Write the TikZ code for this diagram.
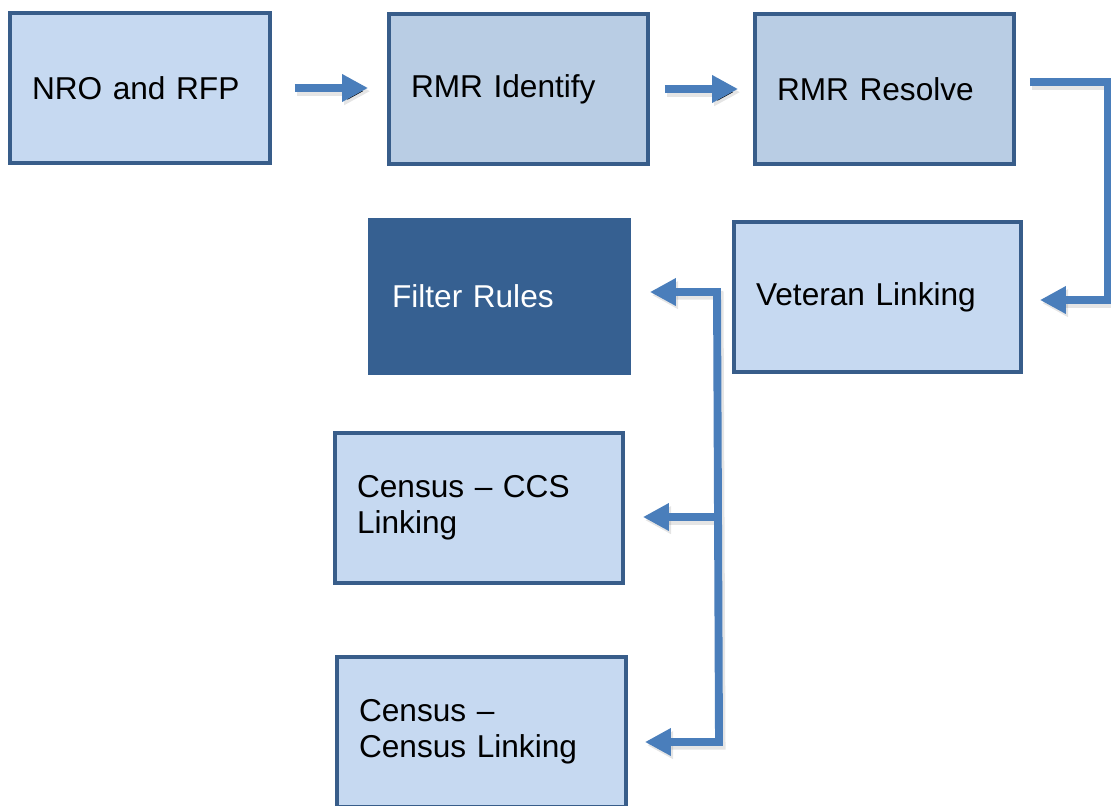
\documentclass[tikz,border=0pt]{standalone}
\usepackage{fontspec}
\setmainfont{Liberation Sans}
\usetikzlibrary{arrows.meta}
\definecolor{boxlight}{HTML}{C6D9F1}
\definecolor{boxmid}{HTML}{B9CDE4}
\definecolor{boxedge}{HTML}{385D8A}
\definecolor{boxdark}{HTML}{366091}
\definecolor{flow}{HTML}{4A7EBB}
\tikzset{
  fhead/.tip={Triangle[length=0.52cm,width=0.52cm]},
  stage/.style={draw=boxedge, line width=2.2pt, fill=boxlight, rectangle,
    minimum height=3cm, inner xsep=0.44cm, inner ysep=0pt, align=left,
    font=\fontsize{18}{20.4}\selectfont, anchor=center},
  stagemid/.style={stage, fill=boxmid},
  stagedark/.style={stage, draw=boxdark, fill=boxdark, text=white, minimum height=3.06cm},
  flowline/.style={draw=flow, line width=4.5pt},
  flowarrow/.style={flowline, -fhead},
  flowshadow/.style={draw=black, draw opacity=0.10, line width=5pt,
    transform canvas={xshift=1.2pt,yshift=-1.8pt}},
}
\begin{document}
\begin{tikzpicture}[x=0.02cm, y=-0.02cm]
\useasboundingbox (0,0) rectangle (1111,805);

% top row
\node[stage, text width=4.32cm]    (nro)     at (140,88)  {NRO and RFP};
\node[stagemid, text width=4.30cm] (ident)   at (518.5,89) {RMR Identify};
\node[stagemid, text width=4.30cm] (resolve) at (884.5,89) {RMR Resolve};

% second row
\node[stage, text width=4.86cm]    (veteran) at (877.5,297) {Veteran Linking};
\node[stagedark, text width=4.30cm] (filter) at (499.5,296.5) {Filter Rules};

% linking stages
\node[stage, text width=4.88cm] (ccs)    at (479,508)   {Census -- CCS\\Linking};
\node[stage, text width=4.90cm] (census) at (481.5,732) {Census --\\Census Linking};

% route points of the connectors
\coordinate (r1) at (1108,82);
\coordinate (r2) at (1108,300);
\coordinate (j1) at (717,292);
\coordinate (j2) at (717,517);
\coordinate (j3) at (719,742);

% soft shadows under the connectors
\draw[flowshadow, -fhead] ([xshift=0.46cm]nro.east) -- ([xshift=-0.38cm]ident.west |- nro.east);
\draw[flowshadow, -fhead] ([xshift=0.3cm]ident.east) -- ([xshift=-0.3cm]resolve.west);
\draw[flowshadow, -fhead, line join=miter] ([xshift=0.28cm]resolve.east |- r1) -- (r1) -- (r2) -- ([xshift=0.34cm]veteran.east |- r2);
\draw[flowshadow, fhead-fhead, line join=miter] ([xshift=0.38cm]filter.east |- j1) -- (j1) -- (j3) -- ([xshift=0.34cm]census.east |- j3);
\draw[flowshadow, -fhead] (j2) -- ([xshift=0.36cm]ccs.east |- j2);

% connectors
\draw[flowarrow] ([xshift=0.46cm]nro.east) -- ([xshift=-0.38cm]ident.west |- nro.east);
\draw[flowarrow] ([xshift=0.3cm]ident.east) -- ([xshift=-0.3cm]resolve.west);
\draw[flowarrow, line join=miter] ([xshift=0.28cm]resolve.east |- r1) -- (r1) -- (r2) -- ([xshift=0.34cm]veteran.east |- r2);
\draw[flowline, line join=miter, fhead-fhead]
  ([xshift=0.38cm]filter.east |- j1) -- (j1) -- (j3) -- ([xshift=0.34cm]census.east |- j3);
\draw[flowarrow] (j2) -- ([xshift=0.36cm]ccs.east |- j2);
\end{tikzpicture}
\end{document}
